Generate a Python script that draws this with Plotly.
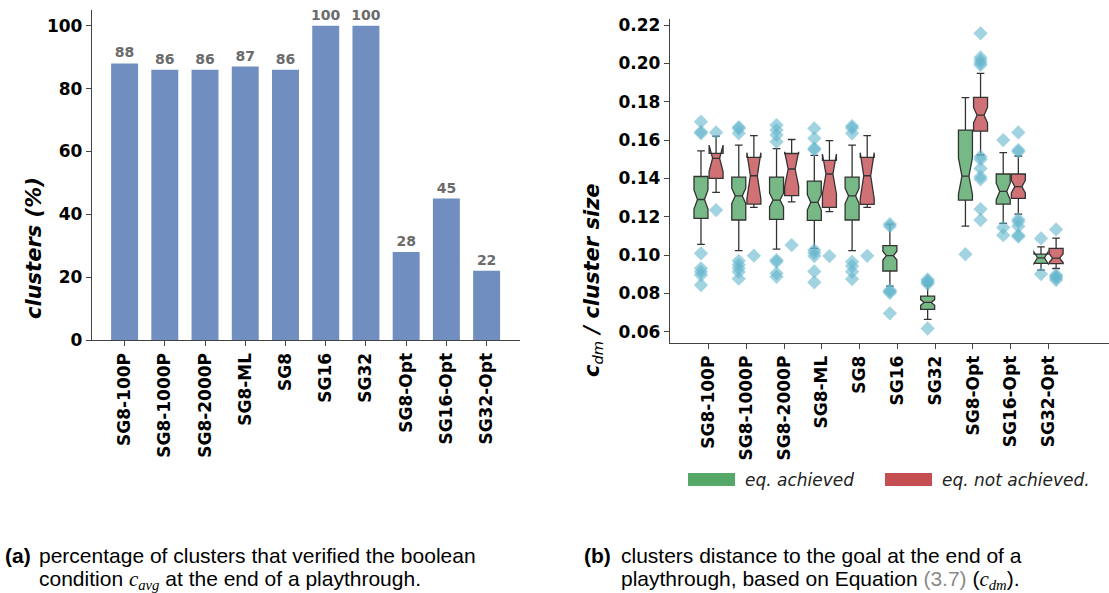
import plotly.graph_objects as go

# ---------------- data ----------------
categories = ["SG8-100P", "SG8-1000P", "SG8-2000P", "SG8-ML", "SG8",
              "SG16", "SG32", "SG8-Opt", "SG16-Opt", "SG32-Opt"]
clusters_pct = [88, 86, 86, 87, 86, 100, 100, 28, 45, 22]

# eq. achieved (green) box statistics, one entry per category
ach_q1 = [0.1192, 0.1183, 0.1186, 0.1181, 0.1183, 0.0917, 0.0717, 0.1287, 0.1266, 0.0957]
ach_med = [0.1290, 0.1309, 0.1287, 0.1275, 0.1309, 0.0997, 0.0753, 0.1412, 0.1332, 0.0986]
ach_q3 = [0.1410, 0.1407, 0.1407, 0.1386, 0.1407, 0.1049, 0.0786, 0.1652, 0.1423, 0.1005]
ach_lo = [0.1056, 0.1023, 0.1031, 0.1035, 0.1023, 0.0838, 0.0665, 0.1151, 0.1165, 0.0922]
ach_hi = [0.1544, 0.1574, 0.1555, 0.1520, 0.1574, 0.1162, 0.0844, 0.1821, 0.1534, 0.1043]
ach_notch = [0.0050, 0.0040, 0.0036, 0.0040, 0.0040, 0.0023, 0.0015, 0.0095, 0.0043, 0.0030]
ach_out = [
    [0.1696, 0.1643, 0.1635, 0.1009, 0.0931, 0.0913, 0.0896, 0.0844],
    [0.1668, 0.1660, 0.1635, 0.0970, 0.0950, 0.0932, 0.0912, 0.0877],
    [0.1678, 0.1652, 0.1626, 0.1591, 0.0974, 0.0965, 0.0905, 0.0887],
    [0.1661, 0.1609, 0.1557, 0.1550, 0.1026, 0.1012, 0.0995, 0.0915, 0.0858],
    [0.1673, 0.1663, 0.1635, 0.0965, 0.0943, 0.0913, 0.0875],
    [0.1162, 0.1151, 0.0817, 0.0810, 0.0803, 0.0696],
    [0.0873, 0.0865, 0.0858, 0.0850, 0.0617],
    [0.1005],
    [0.1600, 0.1144, 0.1104],
    [0.1087, 0.0901],
]

# eq. not achieved (red) box statistics (no red box for SG16 / SG32)
not_idx = [0, 1, 2, 3, 4, 7, 8, 9]
not_q1 = [0.1400, 0.1266, 0.1310, 0.1249, 0.1265, 0.1647, 0.1296, 0.0955]
not_med = [0.1505, 0.1414, 0.1449, 0.1423, 0.1414, 0.1730, 0.1357, 0.0984]
not_q3 = [0.1531, 0.1510, 0.1530, 0.1494, 0.1510, 0.1823, 0.1423, 0.1035]
not_lo = [0.1327, 0.1249, 0.1278, 0.1227, 0.1249, 0.1522, 0.1214, 0.0930]
not_hi = [0.1621, 0.1623, 0.1603, 0.1597, 0.1623, 0.1948, 0.1517, 0.1088]
not_notch = [0.0069, 0.0120, 0.0090, 0.0104, 0.0120, 0.0040, 0.0033, 0.0023]
not_out = [
    [0.1640, 0.1235],
    [0.0997],
    [0.1052],
    [0.0995],
    [0.0996],
    [0.2157, 0.2031, 0.2017, 0.2003, 0.1991, 0.1513, 0.1499, 0.1452, 0.1409, 0.1395, 0.1240, 0.1183],
    [0.1640, 0.1548, 0.1539, 0.1186, 0.1174, 0.1151, 0.1104, 0.1096],
    [0.1134, 0.0896, 0.0888, 0.0880, 0.0870],
]

pct_ticks = [0, 20, 40, 60, 80, 100]
cdm_ticks = [0.06, 0.08, 0.10, 0.12, 0.14, 0.16, 0.18, 0.20, 0.22]

# ---------------- style ----------------
W, H = 1109, 593
FONT = "DejaVu Sans"
GREEN = "#55a868"
RED = "#c44e52"
BAR = "rgba(76,114,176,0.8)"
OUTC = "rgba(100,181,205,0.6)"
AX = "#444444"
OFF = 0.2


def px(x):
    return x / W


def py(y):
    return 1 - y / H


fig = go.Figure()

# ---- left: bar chart ----
fig.add_trace(go.Bar(
    x=categories, y=clusters_pct, width=0.67, marker=dict(color=BAR, line=dict(width=0)),
    text=[str(v) for v in clusters_pct], textposition="outside", constraintext="none",
    textfont=dict(family=FONT, size=14, color="#6b6b6b", weight="bold"),
    cliponaxis=False, showlegend=False, xaxis="x", yaxis="y"))

# ---- right: notched boxes ----
fig.add_trace(go.Box(
    x=[i - OFF for i in range(len(categories))],
    q1=ach_q1, median=ach_med, q3=ach_q3, lowerfence=ach_lo, upperfence=ach_hi,
    notchspan=ach_notch, notched=True, notchwidth=0.25, boxpoints=False,
    width=0.37, whiskerwidth=0.55,
    fillcolor="rgba(85,168,104,0.8)", line=dict(color="#333333", width=1.3),
    showlegend=False, xaxis="x2", yaxis="y2"))
fig.add_trace(go.Box(
    x=[i + OFF for i in not_idx],
    q1=not_q1, median=not_med, q3=not_q3, lowerfence=not_lo, upperfence=not_hi,
    notchspan=not_notch, notched=True, notchwidth=0.25, boxpoints=False,
    width=0.37, whiskerwidth=0.55,
    fillcolor="rgba(196,78,82,0.8)", line=dict(color="#333333", width=1.3),
    showlegend=False, xaxis="x2", yaxis="y2"))

# outliers
ox, oy = [], []
for i, vals in enumerate(ach_out):
    ox += [i - OFF] * len(vals)
    oy += vals
for k, i in enumerate(not_idx):
    ox += [i + OFF] * len(not_out[k])
    oy += not_out[k]
fig.add_trace(go.Scatter(
    x=ox, y=oy, mode="markers",
    marker=dict(symbol="diamond", size=11, color=OUTC, line=dict(width=0)),
    showlegend=False, xaxis="x2", yaxis="y2", cliponaxis=False))

tickfont = dict(family=FONT, size=17, color="black", weight="bold")
axis_common = dict(showline=True, linecolor=AX, linewidth=1.3, ticks="outside",
                   ticklen=5, tickwidth=1.3, tickcolor=AX, showgrid=False,
                   zeroline=False, tickfont=tickfont, automargin=False)

fig.update_layout(
    width=W, height=H, margin=dict(l=0, r=0, t=0, b=0, pad=0),
    paper_bgcolor="white", plot_bgcolor="white",
    xaxis=dict(domain=[px(92), px(520)], range=[-0.81, 9.83], tickangle=-90,
               anchor="y", **axis_common),
    yaxis=dict(domain=[py(340), py(10)], range=[0, 105], tickvals=pct_ticks,
               anchor="x", **axis_common),
    xaxis2=dict(domain=[px(670), px(1109)], range=[-1.02, 10.6], tickangle=-90,
                tickvals=list(range(len(categories))), ticktext=categories,
                anchor="y2", **axis_common),
    yaxis2=dict(domain=[py(342.7), py(19.3)], range=[0.0543, 0.223], tickvals=cdm_ticks,
                tickformat=".2f", anchor="x2", **axis_common),
    boxmode="overlay",
)

# axis titles
fig.add_annotation(x=px(20), y=py(175), xref="paper", yref="paper", textangle=-90,
                   text="clusters (%)", showarrow=False,
                   font=dict(family=FONT, size=21, color="black", weight="bold", style="italic"))
fig.add_annotation(x=px(593), y=py(181), xref="paper", yref="paper", textangle=-90,
                   text="c<sub><span style=\"font-weight:normal\">dm</span></sub> / cluster size",
                   showarrow=False,
                   font=dict(family=FONT, size=21, color="black", weight="bold", style="italic"))

# legend
for x0, x1, col, label, tx in [(688, 735, GREEN, "eq. achieved", 743),
                               (885, 932, RED, "eq. not achieved.", 940)]:
    fig.add_shape(type="rect", xref="paper", yref="paper", x0=px(x0), x1=px(x1),
                  y0=py(486), y1=py(473), fillcolor=col, line=dict(width=0))
    fig.add_annotation(x=px(tx), y=py(480), xref="paper", yref="paper", xanchor="left",
                       yanchor="middle", text=label, showarrow=False,
                       font=dict(family=FONT, size=17, color="#222222", style="italic"))

# captions
CAP = dict(family="Liberation Sans", size=21, color="black")
SER = "font-family:Liberation Serif"
caps = [
    (3, 555, "<b>(a)</b>"),
    (37, 555, "percentage of clusters that verified the boolean"),
    (37, 580, "condition <span style=\"" + SER + "\"><i>c</i><sub><i>avg</i></sub></span> at the end of a playthrough."),
    (582, 555, "<b>(b)</b>"),
    (619, 555, "clusters distance to the goal at the end of a"),
    (619, 580, "playthrough, based on Equation <span style=\"color:#8a8a8a\">(3.7)</span> (<span style=\"" + SER + "\"><i>c</i><sub><i>dm</i></sub></span>)."),
]
for x, y, t in caps:
    fig.add_annotation(x=px(x), y=py(y), xref="paper", yref="paper", xanchor="left",
                       yanchor="middle", text=t, showarrow=False, font=CAP)

fig.write_html("out.html")
